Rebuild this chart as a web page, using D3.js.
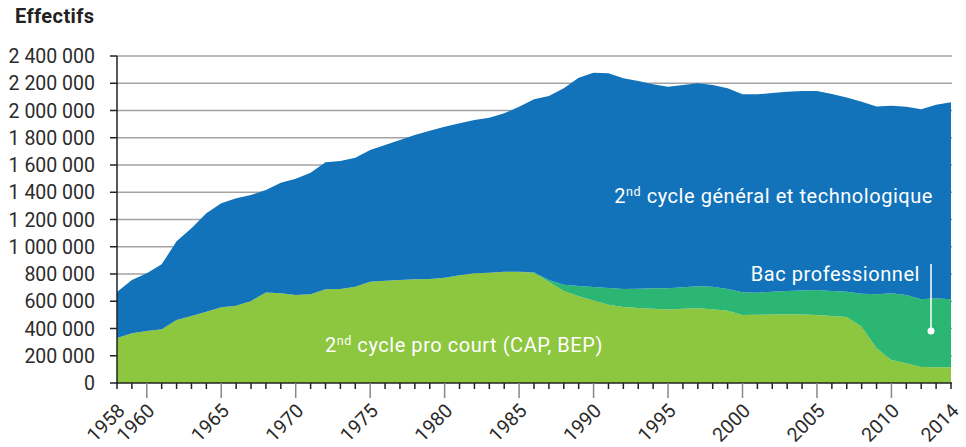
<!DOCTYPE html>
<html>
  <head>
    <meta charset="utf-8">
    <script src="https://cdn.jsdelivr.net/npm/d3@7"></script>
    <style>
      body { margin: 0; background: #fff; }
      text { font-family: Roboto, "Open Sans", sans-serif; }
    </style>
  </head>
  <body>
    <svg width="966" height="447"></svg>

    <script type="text/javascript">
      // Years on the x axis
      var years = d3.range(1958, 2015);

      // 2nd cycle pro court (CAP, BEP)
      var proCourt = [
        330000, 365000, 382000, 394000, 462000, 492000, 523000, 556000, 567000, 602000,
        665000, 658000, 646000, 651000, 688000, 690000, 707000, 744000, 751000, 756000,
        761000, 763000, 773000, 790000, 805000, 810000, 817000, 817000, 808000, 743000,
        675000, 636000, 605000, 575000, 558000, 550000, 545000, 540000, 545000, 548000,
        541000, 530000, 499000, 501000, 503000, 504000, 502000, 499000, 492000, 484000,
        413000, 255000, 169000, 145000, 118000, 116000, 115000
      ];

      // Bac professionnel
      var bacPro = [
        0, 0, 0, 0, 0, 0, 0, 0, 0, 0,
        0, 0, 0, 0, 0, 0, 0, 0, 0, 0,
        0, 0, 0, 0, 0, 0, 0, 0, 5000, 13000,
        47000, 76000, 99000, 123000, 132000, 142000, 150000, 155000, 157000, 162000,
        166000, 160000, 167000, 162000, 167000, 171000, 176000, 184000, 183000, 186000,
        242000, 396000, 489000, 501000, 496000, 506000, 499000
      ];

      // 2nd cycle général et technologique
      var general = [
        338000, 391000, 423000, 477000, 578000, 643000, 722000, 763000, 789000, 778000,
        751000, 812000, 854000, 892000, 932000, 939000, 947000, 966000, 996000, 1027000,
        1059000, 1089000, 1108000, 1116000, 1125000, 1137000, 1162000, 1211000, 1269000, 1350000,
        1441000, 1529000, 1573000, 1575000, 1546000, 1524000, 1497000, 1480000, 1485000, 1490000,
        1480000, 1473000, 1453000, 1456000, 1458000, 1463000, 1465000, 1460000, 1447000, 1425000,
        1410000, 1379000, 1377000, 1382000, 1396000, 1420000, 1446000
      ];

      var yTicks = d3.range(0, 2400001, 200000);
      var xLabels = [1958, 1960, 1965, 1970, 1975, 1980, 1985, 1990, 1995, 2000, 2005, 2010, 2014];

      var keys = ['proCourt', 'bacPro', 'general'];
      var colors = { proCourt: '#8dc63f', bacPro: '#2bb673', general: '#1273ba' };

      var rows = years.map(function(yr, i) {
        return { year: yr, proCourt: proCourt[i], bacPro: bacPro[i], general: general[i] };
      });

      var svg = d3.select('svg');
      var x = d3.scaleLinear().domain([1958, 2014]).range([117, 951]);
      var y = d3.scaleLinear().domain([0, 2400000]).range([383, 56]);

      var fr = d3.formatLocale({ decimal: ',', thousands: ' ', grouping: [3], currency: ['', ' €'] });
      var fmt = fr.format(',');

      // Title
      svg.append('text')
        .attr('x', 15).attr('y', 23)
        .style('font-size', '20px').style('font-weight', 'bold')
        .style('letter-spacing', '0.4px')
        .attr('fill', '#222')
        .text('Effectifs');

      // Gridlines
      svg.append('g').selectAll('line').data(yTicks.slice(1)).enter()
        .append('line')
        .attr('x1', 117).attr('x2', 952)
        .attr('y1', function(d) { return y(d); })
        .attr('y2', function(d) { return y(d); })
        .attr('stroke', '#a3a3a3').attr('stroke-width', 1.5);

      // Stacked areas
      var series = d3.stack().keys(keys)(rows);
      var area = d3.area()
        .x(function(d) { return x(d.data.year); })
        .y0(function(d) { return y(d[0]); })
        .y1(function(d) { return y(d[1]); });

      svg.append('g').selectAll('path').data(series).enter()
        .append('path')
        .attr('fill', function(d) { return colors[d.key]; })
        .attr('d', area);

      // Y axis
      var yAxis = svg.append('g');
      yAxis.append('line')
        .attr('x1', 117).attr('x2', 117).attr('y1', 56).attr('y2', 384)
        .attr('stroke', '#222').attr('stroke-width', 1.5);
      yAxis.selectAll('line.tick').data(yTicks).enter()
        .append('line').attr('class', 'tick')
        .attr('x1', 110).attr('x2', 117)
        .attr('y1', function(d) { return y(d); })
        .attr('y2', function(d) { return y(d); })
        .attr('stroke', '#222').attr('stroke-width', 1.5);
      yAxis.selectAll('text').data(yTicks).enter()
        .append('text')
        .attr('x', 95)
        .attr('y', function(d) { return y(d); })
        .attr('dy', '0.36em')
        .attr('text-anchor', 'end')
        .style('font-size', '19.5px')
        .attr('fill', '#2b2b2b')
        .text(function(d) { return fmt(d); });

      // X axis
      var xAxis = svg.append('g');
      xAxis.append('line')
        .attr('x1', 116).attr('x2', 952).attr('y1', 383).attr('y2', 383)
        .attr('stroke', '#222').attr('stroke-width', 1.5);
      xAxis.selectAll('line.tick').data(years).enter()
        .append('line').attr('class', 'tick')
        .attr('x1', function(d) { return x(d); })
        .attr('x2', function(d) { return x(d); })
        .attr('y1', 383)
        .attr('y2', function(d) { return (d % 5 === 0) ? 398 : 389; })
        .attr('stroke', function(d) { return (d % 5 === 0) ? '#888' : '#222'; })
        .attr('stroke-width', 1.5);
      xAxis.selectAll('text').data(xLabels).enter()
        .append('text')
        .attr('transform', function(d) { return 'translate(' + (x(d) + 9) + ',412) rotate(-45)'; })
        .attr('text-anchor', 'end')
        .style('font-size', '19.5px')
        .attr('fill', '#2b2b2b')
        .text(function(d) { return d; });

      // Series labels
      function label(px, py, anchor, spacing, parts) {
        var t = svg.append('text')
          .attr('x', px).attr('y', py)
          .attr('text-anchor', anchor)
          .attr('fill', '#fff')
          .style('font-size', '20px')
          .style('letter-spacing', spacing + 'px');
        parts.forEach(function(p) {
          var s = t.append('tspan').text(p.text);
          if (p.sup) s.style('font-size', '12.5px').attr('dy', -7.5);
          if (p.after) s.attr('dy', 7.5);
        });
        return t;
      }
      label(933, 203, 'end', 0.55, [{ text: '2' }, { text: 'nd', sup: true }, { text: ' cycle général et technologique', after: true }]);
      label(920, 281, 'end', 0.55, [{ text: 'Bac professionnel' }]);
      label(325, 352, 'start', 0.55, [{ text: '2' }, { text: 'nd', sup: true }, { text: ' cycle pro court (CAP, BEP)', after: true }]);

      // Leader for Bac professionnel
      svg.append('line')
        .attr('x1', 931).attr('x2', 931).attr('y1', 264).attr('y2', 331)
        .attr('stroke', '#fff').attr('stroke-width', 1.5);
      svg.append('circle')
        .attr('cx', 931).attr('cy', 331).attr('r', 3.5)
        .attr('fill', '#fff');
    </script>
  </body>
</html>
